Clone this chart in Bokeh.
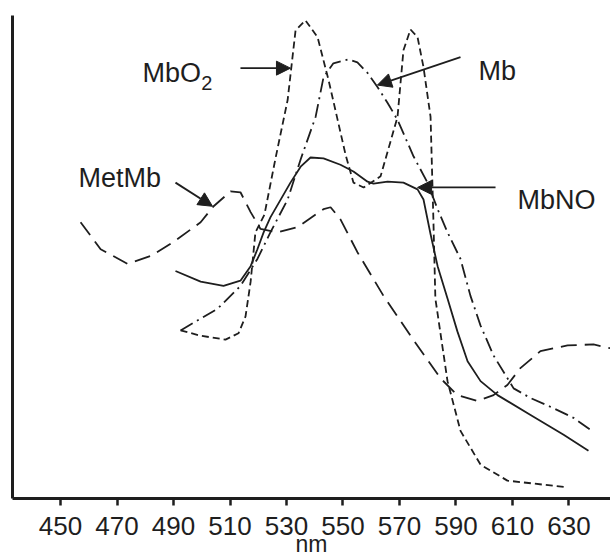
from bokeh.plotting import figure
from bokeh.models import Range1d, Label, Arrow, NormalHead, FixedTicker
from bokeh.embed import file_html
from bokeh.resources import INLINE

# ---- data (wavelength nm, relative absorbance) ----
mbo2_nm = [492.5, 499.6, 508.4, 513.0, 515.5, 517.3, 519.0, 522.2, 526.1, 530.4, 533.2, 536.7,
           541.0, 544.9, 548.1, 550.9, 553.7, 557.3, 563.3, 569.3, 571.4, 573.9, 576.4, 578.5,
           581.0, 582.0, 582.7, 587.0, 591.6, 598.7, 608.2, 629.5]
mbo2_abs = [0.348, 0.337, 0.329, 0.342, 0.377, 0.449, 0.551, 0.588, 0.704, 0.825, 0.969, 0.990,
            0.955, 0.866, 0.784, 0.712, 0.654, 0.644, 0.667, 0.790, 0.928, 0.971, 0.955, 0.893,
            0.790, 0.578, 0.414, 0.243, 0.140, 0.070, 0.037, 0.023]

mb_nm = [492.5, 505.6, 513.7, 519.7, 524.3, 530.4, 535.0, 540.3, 543.1, 546.6, 551.9, 555.1,
         558.7, 562.2, 565.8, 569.3, 575.0, 579.9, 583.5, 587.0, 591.6, 595.1, 598.7, 603.3,
         610.4, 616.4, 624.5, 631.6, 637.6]
mb_abs = [0.348, 0.393, 0.440, 0.496, 0.551, 0.619, 0.702, 0.790, 0.872, 0.901, 0.909, 0.903,
          0.881, 0.852, 0.819, 0.784, 0.708, 0.654, 0.599, 0.551, 0.496, 0.420, 0.358, 0.296,
          0.228, 0.208, 0.187, 0.167, 0.142]

mbno_nm = [490.7, 499.6, 507.7, 513.7, 517.3, 519.7, 521.9, 524.3, 531.4, 535.0, 538.5, 543.1,
           549.1, 553.7, 558.7, 560.8, 565.8, 571.4, 576.4, 578.5, 581.0, 583.5, 587.0, 590.5,
           594.1, 598.7, 604.7, 616.4, 628.1, 636.9]
mbno_abs = [0.471, 0.449, 0.440, 0.451, 0.481, 0.516, 0.551, 0.582, 0.654, 0.687, 0.706, 0.704,
            0.691, 0.677, 0.656, 0.652, 0.656, 0.654, 0.640, 0.619, 0.547, 0.481, 0.414, 0.346,
            0.284, 0.243, 0.214, 0.173, 0.132, 0.099]

metmb_nm = [457.1, 464.2, 473.7, 481.9, 490.0, 499.6, 504.2, 510.2, 513.7, 517.3, 520.8, 526.8,
            533.9, 543.1, 545.6, 549.1, 555.1, 564.3, 573.9, 584.5, 590.5, 597.6, 603.3, 608.2,
            612.8, 619.9, 629.5, 638.7, 644.7]
metmb_abs = [0.572, 0.516, 0.486, 0.502, 0.531, 0.572, 0.605, 0.636, 0.634, 0.593, 0.558, 0.551,
             0.562, 0.599, 0.603, 0.578, 0.510, 0.420, 0.337, 0.249, 0.214, 0.202, 0.214, 0.235,
             0.270, 0.305, 0.317, 0.319, 0.311]

x_ticks = [450, 470, 490, 510, 530, 550, 570, 590, 610, 630]

FONT = "Liberation Sans"
INK = "#1e1e1e"

p = figure(width=610, height=559, output_backend="svg", toolbar_location=None,
           x_range=Range1d(433.0, 644.7), y_range=Range1d(0, 1),
           min_border_left=12, min_border_right=0, min_border_top=15, min_border_bottom=58)
p.outline_line_color = None
p.grid.visible = False
p.background_fill_color = "white"
p.border_fill_color = "white"

# bottom axis
xa = p.xaxis[0]
xa.ticker = FixedTicker(ticks=x_ticks)
xa.minor_tick_line_color = None
xa.major_tick_in = 0
xa.major_tick_out = 7
xa.major_tick_line_width = 2.5
xa.major_tick_line_color = INK
xa.axis_line_width = 3
xa.axis_line_color = INK
xa.major_label_text_font = FONT
xa.major_label_text_font_size = "26px"
xa.major_label_text_color = INK
xa.major_label_standoff = 11
xa.axis_label = "nm"
xa.axis_label_text_font = FONT
xa.axis_label_text_font_size = "23px"
xa.axis_label_text_font_style = "normal"
xa.axis_label_text_color = INK
xa.axis_label_standoff = -7

# left axis: line only
ya = p.yaxis[0]
ya.ticker = FixedTicker(ticks=[])
ya.major_tick_line_color = None
ya.minor_tick_line_color = None
ya.major_label_standoff = 0
ya.axis_line_width = 3
ya.axis_line_color = INK

LW = 1.8
p.line(mbo2_nm, mbo2_abs, line_color=INK, line_width=LW, line_dash="7 4")
p.line(mb_nm, mb_abs, line_color=INK, line_width=LW, line_dash="14 5 2 5")
p.line(metmb_nm, metmb_abs, line_color=INK, line_width=LW, line_dash="16 8")
p.line(mbno_nm, mbno_abs, line_color=INK, line_width=LW)

# labels
def lab(x, y, t, size="27px"):
    p.add_layout(Label(x=x, y=y, text=t, text_font=FONT, text_font_size=size,
                       text_color=INK, text_baseline="alphabetic", text_align="left"))

lab(479.0, 0.881, "MbO")
lab(499.8, 0.860, "2", size="20px")
lab(598.0, 0.885, "Mb")
lab(456.4, 0.663, "MetMb")
lab(611.8, 0.619, "MbNO")

def arr(x0, y0, x1, y1):
    p.add_layout(Arrow(x_start=x0, y_start=y0, x_end=x1, y_end=y1,
                       line_color=INK, line_width=1.8,
                       end=NormalHead(size=14, fill_color=INK, line_color=INK)))

arr(513.7, 0.891, 531.4, 0.891)
arr(591.6, 0.914, 562.2, 0.856)
arr(490.7, 0.654, 503.8, 0.605)
arr(604.0, 0.644, 576.4, 0.644)

open("out.html", "w").write(file_html(p, INLINE))
